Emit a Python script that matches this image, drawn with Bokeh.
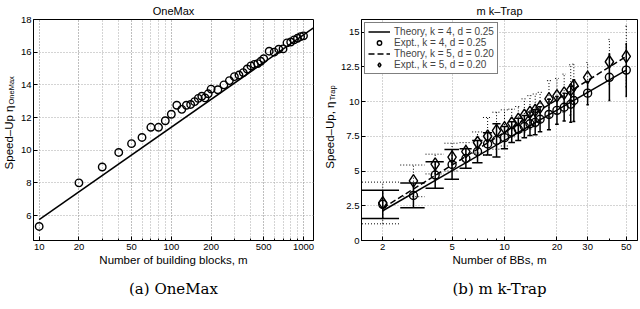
import math
from bokeh.plotting import figure
from bokeh.models import FixedTicker, PrintfTickFormatter, Label, Legend, LegendItem, Range1d, Title
from bokeh.layouts import row
from bokeh.embed import file_html
from bokeh.resources import INLINE

# ---------------- data: OneMax ----------------
om_m = [10, 20, 30, 40, 50, 60, 70, 80, 90, 100,
        110, 120, 130, 140, 150, 160, 170, 180, 190, 200,
        225, 250, 275, 300, 325, 350, 375, 400, 425, 450, 475, 500,
        550, 600, 650, 700, 750, 800, 850, 900, 950, 1000]
om_eta = [5.33, 8.0, 8.97, 9.86, 10.4, 10.78, 11.4, 11.4, 11.8, 12.2,
          12.75, 12.5, 12.75, 12.8, 12.97, 13.17, 13.3, 13.2, 13.45, 13.74,
          13.7, 14.0, 14.26, 14.5, 14.6, 14.75, 14.97, 15.16, 15.25, 15.3, 15.44, 15.6,
          16.06, 16.0, 16.18, 16.2, 16.57, 16.62, 16.75, 16.85, 16.95, 17.0]
om_theory_m = [10, 1190]
om_theory_eta = [5.75, 17.49]
om_xticks = [10, 20, 50, 100, 200, 500, 1000]
om_xminor = [10, 20, 30, 40, 50, 60, 70, 80, 90, 100, 200, 300, 400, 500, 600, 700, 800, 900, 1000]
om_yticks = [6, 8, 10, 12, 14, 16, 18]

# ---------------- data: m k-Trap ----------------
trap_m = [2, 3, 4, 5, 6, 7, 8, 9, 10, 11, 12, 13, 14, 15, 16, 18, 20, 22, 24, 25, 30, 40, 50]
trap_eta4 = [2.6, 3.24, 4.71, 5.47, 5.9, 6.4, 6.95, 7.2, 7.4, 7.8, 8.0, 8.2, 8.4, 8.5, 8.72,
             9.07, 9.36, 9.59, 9.8, 10.07, 10.6, 11.74, 12.26]
trap_err4 = [1.02, 0.89, 0.95, 1.07, 0.7, 0.8, 0.8, 1.2, 0.8, 0.75, 0.8, 0.8, 0.85, 0.9, 0.9,
             1.1, 1.0, 1.0, 1.3, 1.5, 0.84, 1.67, 1.9]
trap_eta5 = [2.7, 4.29, 5.5, 6.0, 6.4, 7.05, 7.5, 7.9, 8.1, 8.45, 8.71, 9.0, 9.22, 9.36, 9.59,
             10.19, 10.4, 10.6, 10.83, 11.14, 11.74, 12.86, 13.24]
trap_err5 = [1.5, 1.14, 0.71, 1.0, 0.64, 0.76, 1.35, 1.33, 1.3, 1.0, 0.93, 1.19, 1.2, 1.18, 1.07,
             1.31, 1.26, 1.37, 1.81, 1.55, 1.07, 1.61, 2.19]
trap_theory_m = [2, 50]
trap_theory4 = [2.14, 12.26]
trap_theory5 = [2.33, 13.24]
trap_xticks = [2, 5, 10, 20, 30, 50]
trap_xminor = [2, 3, 4, 5, 6, 7, 8, 9, 10, 20, 30, 40, 50]
trap_yticks = [0, 2.5, 5, 7.5, 10, 12.5, 15]

FONT = "Liberation Sans"
SERIF = "DejaVu Serif"
H = 309
TOP = 18
BOTTOM = 69
FRAME_BOTTOM = H - BOTTOM   # page y of frame bottom
GRID = "#a8a8a8"


def style(p, xt, xminor, yt, minor_grid, title, caption):
    p.outline_line_color = "black"
    p.outline_line_width = 1
    p.background_fill_color = "white"
    p.border_fill_color = "white"
    p.xaxis.ticker = FixedTicker(ticks=xt, minor_ticks=xminor)
    p.yaxis.ticker = FixedTicker(ticks=yt)
    for ax in (p.xaxis[0], p.yaxis[0]):
        ax.formatter = PrintfTickFormatter(format="%g")
        ax.major_tick_in = 4
        ax.major_tick_out = 0
        ax.minor_tick_in = 2
        ax.minor_tick_out = 0
        ax.major_label_standoff = 3
        ax.major_label_text_font = FONT
        ax.major_label_text_font_size = "9.5px"
        ax.major_label_text_color = "black"
        ax.axis_line_color = "black"
        ax.major_tick_line_color = "black"
        ax.minor_tick_line_color = "black"
        ax.axis_label_text_font = FONT
        ax.axis_label_text_font_size = "11.5px"
        ax.axis_label_text_font_style = "normal"
        ax.axis_label_text_color = "black"
        ax.axis_label_standoff = 1
    p.yaxis.major_label_standoff = 2
    p.yaxis.minor_tick_line_color = None
    p.xgrid.grid_line_color = GRID
    p.ygrid.grid_line_color = GRID
    p.xgrid.grid_line_dash = "1 2"
    p.ygrid.grid_line_dash = "1 2"
    if minor_grid:
        p.xgrid.minor_grid_line_color = GRID
        p.xgrid.minor_grid_line_dash = "1 2"
    p.title.text = title
    p.title.align = "center"
    p.title.text_font = FONT
    p.title.text_font_size = "11px"
    p.title.text_font_style = "normal"
    p.title.text_color = "black"
    p.title.standoff = 5
    p.add_layout(Title(text=caption, align="center", text_font=SERIF, text_font_size="15px",
                       text_font_style="normal", text_color="black", standoff=18), "below")


def ylabel_fig(width, main, sub, x_mid, junction_from_top):
    f = figure(width=width, height=H, output_backend="svg", toolbar_location=None,
               x_axis_location=None, y_axis_location=None, min_border=0,
               x_range=Range1d(0, 1), y_range=Range1d(0, 1))
    f.grid.visible = False
    f.outline_line_color = None
    f.background_fill_color = "white"
    f.border_fill_color = "white"
    # this frame is aligned with the neighbouring plot frame (bottom at FRAME_BOTTOM)
    j = FRAME_BOTTOM - junction_from_top
    f.add_layout(Label(x=x_mid, y=j, x_units="screen", y_units="screen",
                       text=main, angle=math.pi / 2, text_align="right", text_baseline="middle",
                       text_font=FONT, text_font_size="11.5px", text_color="black"))
    f.add_layout(Label(x=x_mid + 3, y=j + 1, x_units="screen", y_units="screen",
                       text=sub, angle=math.pi / 2, text_align="left", text_baseline="middle",
                       text_font=FONT, text_font_size="7.5px", text_color="black"))
    return f


# ---------------- left panel ----------------
ylab1 = ylabel_fig(17, "Speed\u2013Up \u03b7", "OneMax", 8, 105)
p1 = figure(width=303, height=H, x_axis_type="log", output_backend="svg", toolbar_location=None,
            x_range=Range1d(9.06, 1190), y_range=Range1d(4.47, 18),
            min_border_left=15, min_border_right=7, min_border_top=TOP, min_border_bottom=BOTTOM)
style(p1, om_xticks, om_xminor, om_yticks, True, "OneMax", "(a) OneMax")
p1.xaxis.axis_label = "Number of building blocks, m"
p1.line(om_theory_m, om_theory_eta, line_color="black", line_width=1.5)
p1.scatter(om_m, om_eta, marker="circle", size=7.5, fill_color=None, line_color="black", line_width=1.4)

# ---------------- right panel ----------------
ylab2 = ylabel_fig(18, "Speed\u2013Up, \u03b7", "Trap", 9, 101)
p2 = figure(width=302, height=H, x_axis_type="log", output_backend="svg", toolbar_location=None,
            x_range=Range1d(1.51, 58), y_range=Range1d(0, 15.9),
            min_border_left=19, min_border_right=3, min_border_top=TOP, min_border_bottom=BOTTOM)
style(p2, trap_xticks, trap_xminor, trap_yticks, False, "m k\u2013Trap", "(b) m k-Trap")
p2.xaxis.axis_label = "Number of BBs, m"

tee = (max(trap_m) - min(trap_m)) / 100.0
lo4 = [e - d for e, d in zip(trap_eta4, trap_err4)]
hi4 = [e + d for e, d in zip(trap_eta4, trap_err4)]
lo5 = [e - d for e, d in zip(trap_eta5, trap_err5)]
hi5 = [e + d for e, d in zip(trap_eta5, trap_err5)]
left_c = [m - tee for m in trap_m]
right_c = [m + tee for m in trap_m]

# dotted error bars (k = 5)
p2.segment(trap_m, lo5, trap_m, hi5, line_color="black", line_width=1, line_dash="1 2")
p2.segment(left_c, lo5, right_c, lo5, line_color="black", line_width=1, line_dash="1 2")
p2.segment(left_c, hi5, right_c, hi5, line_color="black", line_width=1, line_dash="1 2")
# solid error bars (k = 4)
p2.segment(trap_m, lo4, trap_m, hi4, line_color="black", line_width=1.5)
p2.segment(left_c, lo4, right_c, lo4, line_color="black", line_width=1.5)
p2.segment(left_c, hi4, right_c, hi4, line_color="black", line_width=1.5)

r_th4 = p2.line(trap_theory_m, trap_theory4, line_color="black", line_width=1.5)
r_th5 = p2.line(trap_theory_m, trap_theory5, line_color="black", line_width=1.5, line_dash="6 3")
r_ex4 = p2.scatter(trap_m, trap_eta4, marker="circle", size=8, fill_color=None,
                   line_color="black", line_width=1.4)
r_ex5 = p2.scatter(trap_m, trap_eta5, marker="diamond", size=12.5, fill_color=None,
                   line_color="black", line_width=1.4)

legend = Legend(items=[
    LegendItem(label="Theory, k = 4, d = 0.25", renderers=[r_th4]),
    LegendItem(label="Expt., k = 4, d = 0.25", renderers=[r_ex4]),
    LegendItem(label="Theory, k = 5, d = 0.20", renderers=[r_th5]),
    LegendItem(label="Expt., k = 5, d = 0.20", renderers=[r_ex5]),
], location="top_left")
legend.margin = 3
legend.padding = 3
legend.spacing = 0
legend.label_height = 11
legend.glyph_height = 11
legend.glyph_width = 22
legend.label_standoff = 4
legend.label_text_font = FONT
legend.label_text_font_size = "10px"
legend.border_line_color = "black"
legend.border_line_width = 1
legend.background_fill_alpha = 1
p2.add_layout(legend)

layout = row(ylab1, p1, ylab2, p2)
open("out.html", "w").write(file_html(layout, INLINE))
